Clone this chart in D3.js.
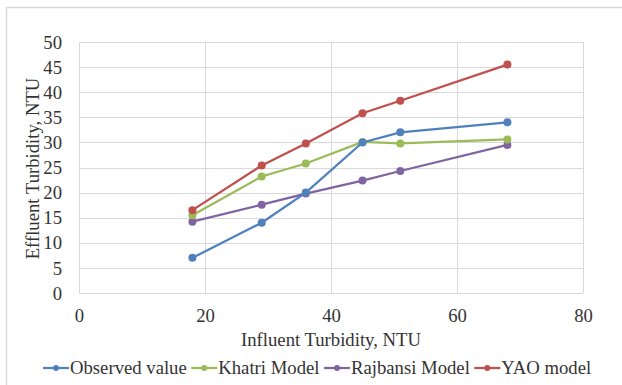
<!DOCTYPE html>
<html>
<head>
  <meta charset="utf-8">
  <title>Turbidity chart</title>
  <style type="text/css">
    body { margin: 0; background-color: #fff; }
    svg { display: block; }
    text { font-family: "Liberation Serif", "Times New Roman", serif; fill: #333; }
    .grid line { stroke: #d9d9d9; stroke-width: 1; }
  </style>
  <script src="https://d3js.org/d3.v7.min.js"></script>
</head>
<body>
<script>
// influent turbidity (x) shared by all series
var influent = [18, 29, 36, 45, 51, 68];

var observed = [7, 14, 20, 30, 32, 34];
var khatri   = [15.5, 23.2, 25.8, 30.1, 29.8, 30.6];
var rajbansi = [14.2, 17.6, 19.8, 22.4, 24.3, 29.5];
var yao      = [16.5, 25.4, 29.8, 35.8, 38.3, 45.5];

var seriesNames  = ["Observed value", "Khatri Model", "Rajbansi Model", "YAO model"];
var seriesColors = ["#4f81bd", "#9bbb59", "#8064a2", "#c0504d"];
var seriesValues = [observed, khatri, rajbansi, yao];
// draw order: red last on top like the original looks
var drawOrder = [2, 1, 0, 3];

var xTicks = [0, 20, 40, 60, 80];
var yTicks = [0, 5, 10, 15, 20, 25, 30, 35, 40, 45, 50];

var fontSize = "18.7px";

var W = 622, H = 385;
var margin = {top: 42, right: 39, bottom: 92, left: 79};
var width = W - margin.left - margin.right;
var height = H - margin.top - margin.bottom;

var svg = d3.select("body").append("svg")
    .attr("width", W)
    .attr("height", H);

// outer chart border (only top/left visible in the frame)
svg.append("rect")
    .attr("x", 6.5).attr("y", 7.5)
    .attr("width", 700).attr("height", 500)
    .attr("fill", "none")
    .attr("stroke", "#d9d9d9")
    .attr("stroke-width", 1.5);

var chart = svg.append("g")
    .attr("transform", "translate(" + margin.left + "," + margin.top + ")");

var x = d3.scaleLinear().domain([0, 80]).range([0, width]);
var y = d3.scaleLinear().domain([0, 50]).range([height, 0]);

// gridlines
var grid = chart.append("g").attr("class", "grid");
grid.selectAll("line.h").data(yTicks).enter().append("line")
    .attr("class", "h")
    .attr("x1", 0).attr("x2", width)
    .attr("y1", function(d) { return Math.round(y(d)) + 0.5; })
    .attr("y2", function(d) { return Math.round(y(d)) + 0.5; });
grid.selectAll("line.v").data(xTicks).enter().append("line")
    .attr("class", "v")
    .attr("y1", 0).attr("y2", height)
    .attr("x1", function(d) { return Math.round(x(d)) + 0.5; })
    .attr("x2", function(d) { return Math.round(x(d)) + 0.5; });

// axes (tick labels only, lines come from the grid)
var xaxis = d3.axisBottom(x).tickValues(xTicks).tickSize(0).tickPadding(0);
var gx = chart.append("g")
    .attr("transform", "translate(0," + height + ")")
    .call(xaxis);
gx.select(".domain").remove();
gx.attr("font-family", null).attr("font-size", null);
gx.selectAll("text")
    .attr("y", 29).attr("dy", 0)
    .style("font-size", fontSize)
    .attr("fill", "#333");

var yaxis = d3.axisLeft(y).tickValues(yTicks).tickSize(0).tickPadding(0);
var gy = chart.append("g").call(yaxis);
gy.select(".domain").remove();
gy.attr("font-family", null).attr("font-size", null);
gy.selectAll("text")
    .attr("x", -17).attr("dy", "0.33em")
    .style("font-size", fontSize)
    .attr("fill", "#333");

// axis titles
chart.append("text")
    .attr("x", width / 2)
    .attr("y", height + 53)
    .attr("text-anchor", "middle")
    .style("font-size", fontSize)
    .text("Influent Turbidity, NTU");

chart.append("text")
    .attr("transform", "translate(" + (39 - margin.left) + "," + (height / 2 + 1) + ") rotate(-90)")
    .attr("text-anchor", "middle")
    .style("font-size", fontSize)
    .text("Effluent Turbidity, NTU");

// series
var line = d3.line()
    .x(function(d) { return x(d[0]); })
    .y(function(d) { return y(d[1]); });

drawOrder.forEach(function(s) {
  var pts = influent.map(function(v, i) { return [v, seriesValues[s][i]]; });
  var g = chart.append("g");
  g.append("path")
      .datum(pts)
      .attr("d", line)
      .attr("fill", "none")
      .attr("stroke", seriesColors[s])
      .attr("stroke-width", 2.25);
  g.selectAll("circle").data(pts).enter().append("circle")
      .attr("cx", function(d) { return x(d[0]); })
      .attr("cy", function(d) { return y(d[1]); })
      .attr("r", 4)
      .attr("fill", seriesColors[s]);
});

// legend, laid out left to right
var legend = svg.append("g");
var lx = 43, ly = 368;
seriesNames.forEach(function(name, s) {
  var item = legend.append("g");
  item.append("line")
      .attr("x1", lx).attr("x2", lx + 26)
      .attr("y1", ly).attr("y2", ly)
      .attr("stroke", seriesColors[s])
      .attr("stroke-width", 2.25);
  item.append("circle")
      .attr("cx", lx + 13).attr("cy", ly)
      .attr("r", 3)
      .attr("fill", seriesColors[s]);
  var t = item.append("text")
      .attr("x", lx + 27)
      .attr("y", ly + 5.5)
      .style("font-size", fontSize)
      .text(name);
  lx = lx + 27 + t.node().getComputedTextLength() + 4.5;
});
</script>
</body>
</html>
